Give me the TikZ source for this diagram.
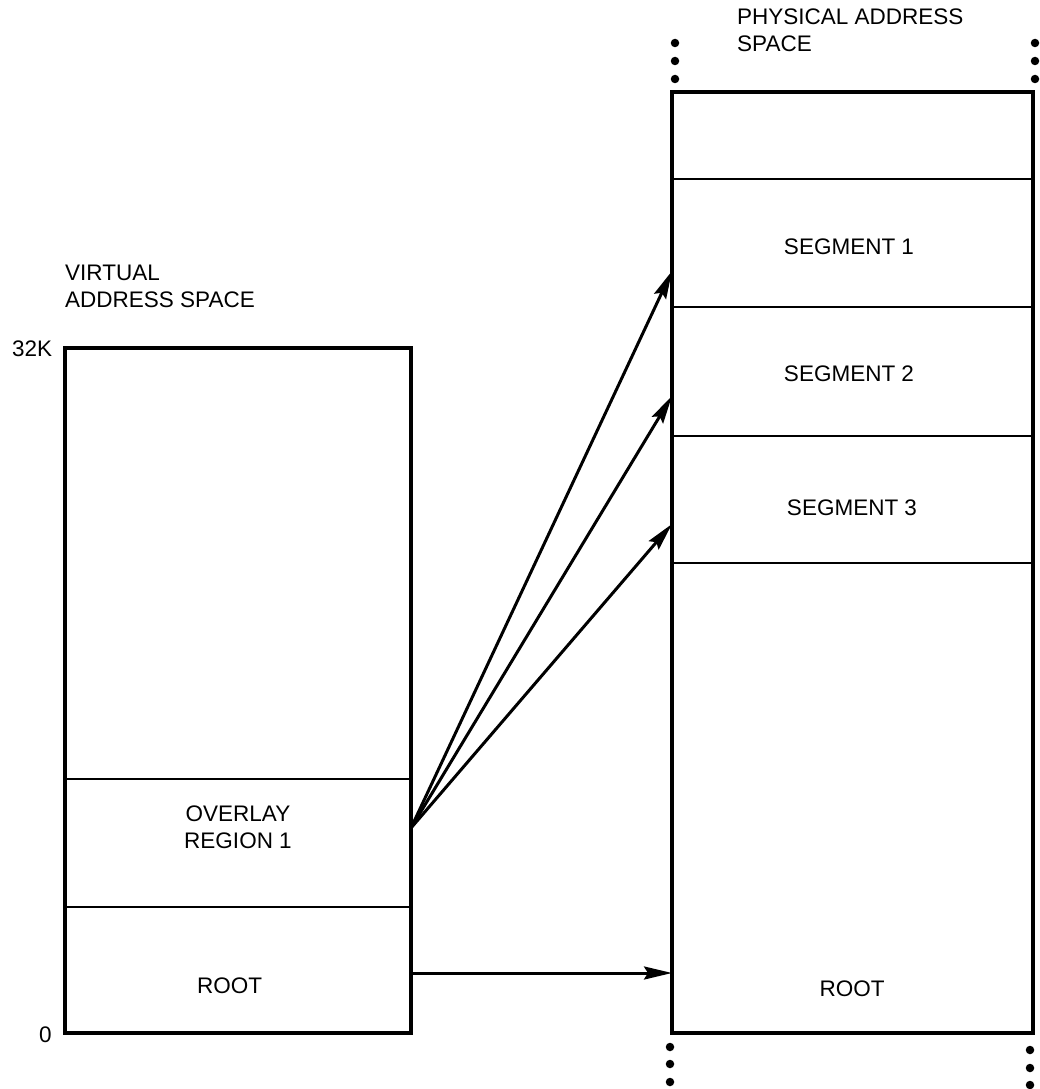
\documentclass[tikz,border=0pt]{standalone}
\usepackage{fontspec}
\setmainfont{Liberation Sans}
\usetikzlibrary{arrows.meta,calc}
\begin{document}
\begin{tikzpicture}[x=1pt,y=-1pt,
  lbl/.style={font=\fontsize{22.5}{27}\selectfont, inner sep=0pt},
  cell/.style={draw, line width=2.8pt, inner sep=0pt, outer sep=0pt, anchor=north west},
  outerbox/.style={line width=4pt, line join=miter},
  arr/.style={line width=3pt, -{Stealth[length=28pt,width=13pt,inset=4pt]}},
  dotnode/.style={circle, fill, inner sep=0pt, minimum size=8.5pt}]
\useasboundingbox (0,0) rectangle (1040,1089);
% left column cells
\node[cell, minimum width=346pt, minimum height=431pt] (lv) at (65,348) {};
\node[cell, minimum width=346pt, minimum height=128pt] (lov) at (65,779) {};
\node[cell, minimum width=346pt, minimum height=126pt] (lroot) at (65,907) {};
% right column cells
\node[cell, minimum width=361pt, minimum height=87pt] (rtop) at (672,92) {};
\node[cell, minimum width=361pt, minimum height=128pt] (rs1) at (672,179) {};
\node[cell, minimum width=361pt, minimum height=129pt] (rs2) at (672,307) {};
\node[cell, minimum width=361pt, minimum height=127pt] (rs3) at (672,436) {};
\node[cell, minimum width=361pt, minimum height=470pt] (rroot) at (672,563) {};
% outer frames
\draw[outerbox] (lv.north west) rectangle (lroot.south east);
\draw[outerbox] (rtop.north west) rectangle (rroot.south east);
% labels (base of a multi-line node = last line)
\node[lbl, anchor=base west, align=left] (phys) at (737,52) {PHYSICAL ADDRESS\\SPACE};
\node[lbl, anchor=base west, align=left] (virt) at (65,307) {VIRTUAL\\ADDRESS SPACE};
\node[lbl, anchor=base west] (k32) at (12,356) {32K};
\node[lbl, anchor=base west] (zero) at (39,1042) {0};
\node[lbl, anchor=base, align=center] (ovt) at (238,848) {OVERLAY\\REGION 1};
\node[lbl, anchor=base] (lrt) at (229.5,993) {ROOT};
\node[lbl, anchor=base] (rrt) at (852,996) {ROOT};
\node[lbl, anchor=base] (s1t) at (849,254) {SEGMENT 1};
\node[lbl, anchor=base] (s2t) at (849,381) {SEGMENT 2};
\node[lbl, anchor=base] (s3t) at (852,515) {SEGMENT 3};
% connector end points
\coordinate (src) at ($(lov.north east)+(0,49)$);
\coordinate (t1) at ($(rs1.north west)+(0,92)$);
\coordinate (t2) at ($(rs2.north west)+(0,89)$);
\coordinate (t3) at ($(rs3.north west)+(0,88)$);
\coordinate (rsrc) at ($(lroot.north east)+(0,66)$);
\coordinate (rdst) at (rroot.west |- rsrc);
\draw[arr] (src) -- (t1);
\draw[arr] (src) -- (t2);
\draw[arr] (src) -- (t3);
\draw[arr] (rsrc) -- (rdst);
% continuation dots
\node[dotnode] (d1) at (675,43) {};
\node[dotnode] (d2) at (675,61) {};
\node[dotnode] (d3) at (675,79) {};
\node[dotnode] (d4) at (1035,43) {};
\node[dotnode] (d5) at (1035,61) {};
\node[dotnode] (d6) at (1035,79) {};
\node[dotnode] (d7) at (670,1047) {};
\node[dotnode] (d8) at (670,1064) {};
\node[dotnode] (d9) at (670,1082) {};
\node[dotnode] (d10) at (1030,1050) {};
\node[dotnode] (d11) at (1030,1068) {};
\node[dotnode] (d12) at (1030,1085) {};
\end{tikzpicture}
\end{document}
